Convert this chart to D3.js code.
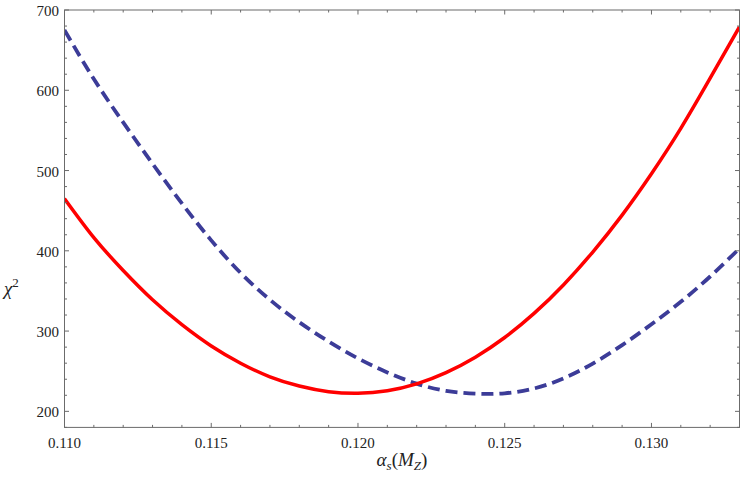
<!DOCTYPE html>
<html>
<head>
<meta charset="utf-8">
<script src="https://cdn.jsdelivr.net/npm/d3@7"></script>
<style>
  html, body { margin: 0; padding: 0; background: #fff; }
  svg { display: block; }
</style>
</head>
<body>
<svg id="chart" width="741" height="487"></svg>
<script>
// ---- data ----
const alphaS = [0.110, 0.111, 0.112, 0.113, 0.114, 0.115, 0.116, 0.117, 0.118, 0.119, 0.120, 0.121,
                0.122, 0.123, 0.124, 0.125, 0.126, 0.127, 0.128, 0.129, 0.130, 0.131, 0.132, 0.133];
const chi2Red  = [465, 416.5, 375.5, 339, 308, 281.5, 260, 243, 231.5, 224.5, 222.5, 225.7,
                  234.3, 248.3, 267.5, 292, 322, 357.5, 398.5, 444.5, 496, 552.5, 615, 679];
const chi2Blue = [675, 614, 560, 508.5, 459, 413, 372.5, 339, 311, 287, 266, 248.5,
                  234.5, 225.5, 222, 222.5, 228.5, 241, 259.5, 282.5, 308.5, 336.5, 368, 403];
const xMajorTicks = [0.110, 0.115, 0.120, 0.125, 0.130];
const yMajorTicks = [200, 300, 400, 500, 600, 700];
const xDomain = [0.110, 0.133];
const yDomain = [180, 700];

// ---- layout ----
const FONT = '"Liberation Serif"';
const svg = d3.select("#chart");
const L = 64.5, R = 739.5, T = 10, B = 427.4;
const x = d3.scaleLinear().domain(xDomain).range([L, R]);
const y = d3.scaleLinear().domain(yDomain).range([B, T]);

const frameColor = "#6b6b6b";

svg.append("defs").append("clipPath").attr("id", "clip")
  .append("rect").attr("x", L).attr("y", T).attr("width", R - L).attr("height", B - T);

const line = (vals) => d3.line()
  .x((d, i) => x(alphaS[i]))
  .y(d => y(d))
  .curve(d3.curveNatural)(vals);

const g = svg.append("g").attr("clip-path", "url(#clip)");
g.append("path").attr("d", line(chi2Blue))
  .attr("fill", "none").attr("stroke", "#3c3c98").attr("stroke-width", 3.8)
  .attr("stroke-dasharray", "12,6");
g.append("path").attr("d", line(chi2Red))
  .attr("fill", "none").attr("stroke", "#ff0000").attr("stroke-width", 3.5);

// frame
svg.append("rect").attr("x", L).attr("y", T).attr("width", R - L).attr("height", B - T)
  .attr("fill", "none").attr("stroke", frameColor).attr("stroke-width", 1);

// ticks
const xMinor = d3.range(0, 24).map(i => 0.110 + i * 0.001);
const yMinor = d3.range(0, 27).map(i => 180 + i * 20);
const isMajorX = v => xMajorTicks.some(t => Math.abs(t - v) < 1e-9);
const isMajorY = v => yMajorTicks.includes(Math.round(v));

const tg = svg.append("g").attr("stroke", frameColor).attr("stroke-width", 1);
xMinor.forEach(v => {
  const len = isMajorX(v) ? 4.5 : 2.5;
  const px = x(v);
  tg.append("line").attr("x1", px).attr("x2", px).attr("y1", B).attr("y2", B - len);
  tg.append("line").attr("x1", px).attr("x2", px).attr("y1", T).attr("y2", T + len);
});
yMinor.forEach(v => {
  const len = isMajorY(v) ? 4.5 : 2.5;
  const py = y(v);
  tg.append("line").attr("x1", L).attr("x2", L + len).attr("y1", py).attr("y2", py);
  tg.append("line").attr("x1", R).attr("x2", R - len).attr("y1", py).attr("y2", py);
});

// tick labels
const fmt = d3.format(".3f");
xMajorTicks.forEach(v => {
  svg.append("text").attr("x", x(v)).attr("y", B + 20.5)
    .style("font-family", FONT).style("font-size", "15px").attr("fill", "#222")
    .attr("text-anchor", "middle").text(fmt(v));
});
yMajorTicks.forEach(v => {
  svg.append("text").attr("x", L - 5.5).attr("y", y(v) + 6)
    .style("font-family", FONT).style("font-size", "15px").attr("fill", "#222")
    .attr("text-anchor", "end").text(v);
});

// axis titles
const xt = svg.append("text").attr("x", (L + R) / 2).attr("y", 466)
  .style("font-family", FONT).style("font-size", "19px").attr("fill", "#222")
  .attr("text-anchor", "middle");
xt.append("tspan").style("font-style", "italic").text("α");
xt.append("tspan").style("font-style", "italic").style("font-size", "13px").attr("dy", 4).text("s");
xt.append("tspan").attr("dy", -4).text("(");
xt.append("tspan").style("font-style", "italic").text("M");
xt.append("tspan").style("font-style", "italic").style("font-size", "13px").attr("dy", 4).text("Z");
xt.append("tspan").attr("dy", -4).text(")");

const yt = svg.append("text").attr("x", 4).attr("y", 295)
  .style("font-family", FONT).style("font-size", "19px").attr("fill", "#222");
yt.append("tspan").style("font-style", "italic").text("χ");
yt.append("tspan").style("font-size", "13px").attr("dy", -8).text("2");
</script>
</body>
</html>
